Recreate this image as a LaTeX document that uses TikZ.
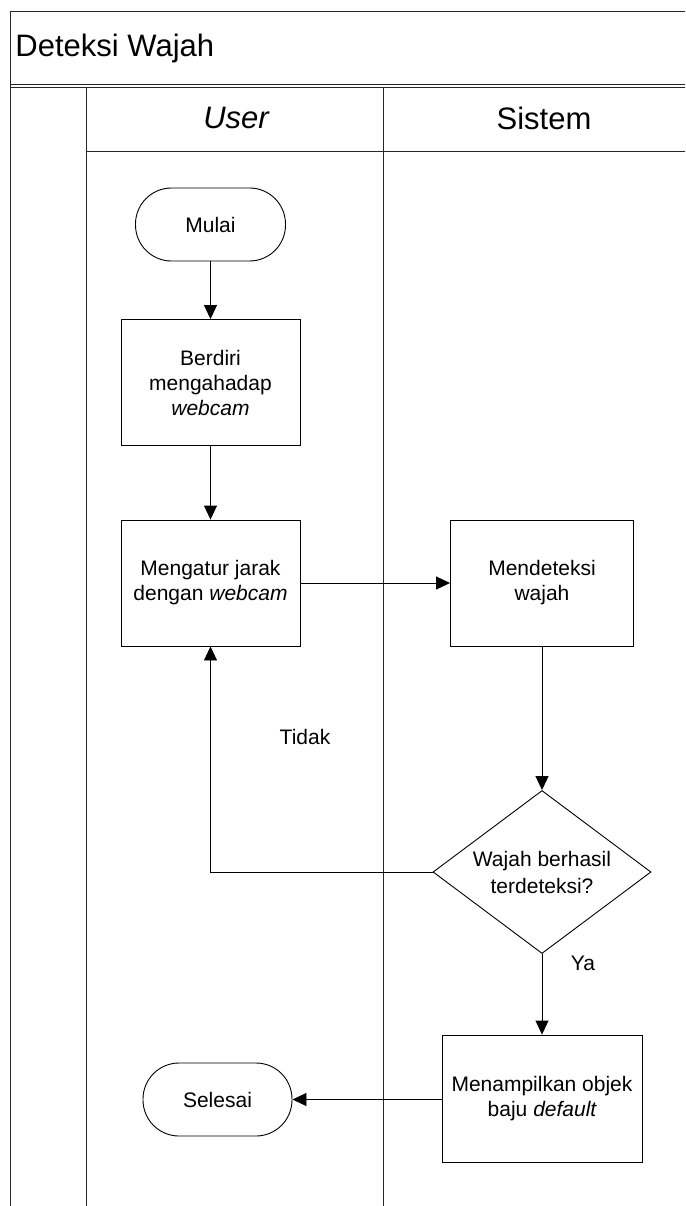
\documentclass[tikz,border=0pt]{standalone}
\usepackage{fontspec}
\setmainfont{Liberation Sans}
\usetikzlibrary{arrows.meta,shapes.geometric}
\begin{document}
\begin{tikzpicture}[x=1pt,y=-1pt, line width=0.9pt,
  every node/.style={font=\fontsize{21}{25}\selectfont, inner sep=0pt},
  stepbox/.style={draw, rectangle, minimum width=179pt, minimum height=126pt, align=center},
  term/.style={draw, rectangle, rounded corners=36pt, minimum width=150pt, minimum height=73pt},
  decision/.style={draw, diamond, minimum width=218pt, minimum height=163pt},
  flow/.style={-{Triangle[length=14pt,width=13pt]}},
  lanes/.style={draw=black!85, line width=0.9pt},
  headtxt/.style={font=\fontsize{31}{36}\selectfont}]
\useasboundingbox (0,0) rectangle (685,1206);
\clip (0,0) rectangle (685,1206);
% frame and lanes
\draw[lanes] (10,1220) -- (10,11) -- (700,11);
\draw[lanes] (10,84) -- (700,84);
\draw[lanes] (10,87) -- (700,87);
\draw[lanes] (86,87) -- (86,1220);
\draw[lanes] (383,87) -- (383,1220);
\draw[lanes] (86,151) -- (700,151);
\node[headtxt, anchor=west] (title) at (15,48) {Deteksi Wajah};
\node[headtxt] (huser) at (236,118) {\itshape User};
\node[headtxt] (hsys) at (544,118) {Sistem};
% nodes
\node[term] (mulai) at (210.5,224.5) {Mulai};
\node[stepbox] (berdiri) at (210.5,382.5) {Berdiri\\mengahadap\\\itshape webcam};
\node[stepbox] (atur) at (210.5,583) {Mengatur jarak\\dengan \itshape webcam};
\node[stepbox, minimum width=183pt] (deteksi) at (542,583) {Mendeteksi\\wajah};
\node[decision, label={[align=center, font=\fontsize{21}{27}\selectfont]center:{Wajah berhasil\\terdeteksi?}}] (dec) at (542,872) {};
\node[stepbox, minimum width=200pt, minimum height=127pt] (tampil) at (542,1098.5) {Menampilkan objek\\baju \itshape default};
\node[term, minimum width=149pt] (selesai) at (217.5,1099.5) {Selesai};
% connectors
\draw[flow] (mulai) -- (berdiri);
\draw[flow] (berdiri) -- (atur);
\draw[flow] (atur) -- (deteksi);
\draw[flow] (deteksi) -- (dec);
\draw[flow] (dec.west) -| (atur.south);
\node (tidak) at (305,737) {Tidak};
\draw[flow] (dec) -- (tampil);
\node (ya) at (583,963) {Ya};
\draw[flow] (tampil.west |- selesai.east) -- (selesai.east);
\end{tikzpicture}
\end{document}
